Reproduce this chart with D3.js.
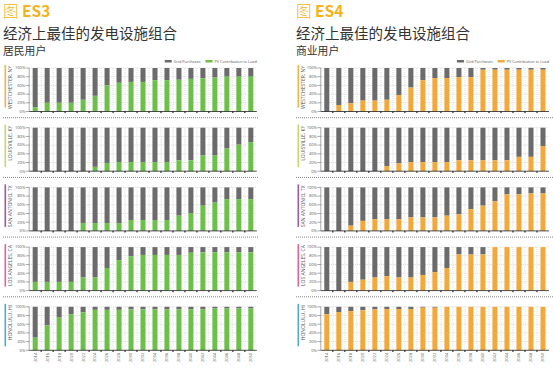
<!DOCTYPE html>
<html><head><meta charset="utf-8">
<script src="https://cdn.jsdelivr.net/npm/d3@7"></script>
<style>body{margin:0;background:#fff}svg{display:block}</style>
</head><body>
<script>
const years = ["2014","2016","2018","2020","2022","2024","2026","2028","2030","2032","2034","2036","2038","2040","2042","2044","2046","2048","2050"];
const cities = ["WESTCHESTER, NY","LOUISVILLE, KY","SAN ANTONIO, TX","LOS ANGELES, CA","HONOLULU, HI"];
const cityColors = ["#f0b548","#c3d96b","#9c5aa8","#e2629c","#4fa9d9"];
const yTicks = [0,20,40,60,80,100];
const seriesNames = ["Grid Purchases","PV Contribution to Load"];

// Residential PV contribution (%)
const resWestchester = [10,20,20,20,27,36,60,66,68,68,72,72,73,75,76,78,80,80,80];
const resLouisville  = [0,0,0,0,0,10,19,21,21,21,21,21,25,25,36,36,52,61,67];
const resSanAntonio  = [0,0,0,0,18,18,18,18,25,25,25,25,35,41,58,65,73,73,73];
const resLosAngeles  = [20,20,20,20,30,30,52,70,79,82,82,82,82,87,88,88,88,88,88];
const resHonolulu    = [29,57,75,83,87,93,93,93,94,94,94,94,94,94,94,96,96,96,96];
// Commercial PV contribution (%)
const comWestchester = [0,15,19,25,25,27,38,55,72,77,77,79,79,96,96,96,96,96,96];
const comLouisville  = [0,0,0,0,0,12,18,21,21,21,21,25,25,25,25,25,33,33,58];
const comSanAntonio  = [0,0,12,23,27,27,27,31,31,31,35,38,50,58,68,84,84,86,86];
const comLosAngeles  = [0,0,20,25,30,33,30,30,36,42,52,83,83,83,100,100,100,100,100];
const comHonolulu    = [83,88,90,92,94,95,95,95,98,98,100,100,100,100,100,100,100,100,100];

const panels = [
  {fig:"ES3", title:"经济上最佳的发电设施组合", sub:"居民用户", color:"#6cc04a",
   data:[resWestchester,resLouisville,resSanAntonio,resLosAngeles,resHonolulu],
   x0:3, plotL:29.2, plotR:256.8, sepR:259},
  {fig:"ES4", title:"经济上最佳的发电设施组合", sub:"商业用户", color:"#f2a93b",
   data:[comWestchester,comLouisville,comSanAntonio,comLosAngeles,comHonolulu],
   x0:296, plotL:320.8, plotR:549, sepR:553}
];
const gridColor = "#6b6b6b";

const svg = d3.select("body").append("svg").attr("width",553).attr("height",369)
  .style("font-family","'Open Sans','Noto Sans CJK SC',sans-serif");

panels.forEach(p => {
  const g = svg.append("g");
  const t = g.append("text").attr("x",p.x0).attr("y",17).attr("fill","#f5b21a")
    .attr("font-family","'Noto Sans CJK SC'").attr("font-size",15.5);
  t.append("tspan").attr("font-weight",300).text("图 ");
  t.append("tspan").attr("font-weight",700).text(p.fig);
  g.append("text").attr("x",p.x0).attr("y",38.5).attr("font-size",14.5).attr("fill","#333")
    .attr("font-family","'Noto Sans CJK SC'").text(p.title);
  g.append("text").attr("x",p.x0).attr("y",55).attr("font-size",10.8).attr("fill","#333")
    .attr("font-family","'Noto Sans CJK SC'").text(p.sub);

  const x = d3.scaleBand().domain(years).range([p.plotL,p.plotR]).paddingInner(0.58).paddingOuter(0.29);

  // legend
  const lg = g.append("g");
  const items = [{n:seriesNames[0],c:gridColor},{n:seriesNames[1],c:p.color}];
  let lx = 0;
  items.forEach(it => {
    lg.append("rect").attr("x",lx).attr("y",-2).attr("width",7).attr("height",2.5).attr("fill",it.c);
    const tx = lg.append("text").attr("x",lx+9).attr("y",1).attr("font-size",3.8).attr("fill","#555").text(it.n);
    lx += 9 + tx.node().getComputedTextLength() + 5;
  });
  lg.attr("transform",`translate(${p.plotR-(lx-5)},62)`);

  p.data.forEach((vals,i) => {
    const top = 68 + i*59.7, h = 43.5;
    const y = d3.scaleLinear().domain([0,100]).range([top+h, top]);
    const cg = g.append("g");
    // separator
    if (i>0) cg.append("line").attr("x1",p.x0).attr("x2",p.sepR).attr("y1",top-10).attr("y2",top-10)
      .attr("stroke","#777").attr("stroke-width",0.9).attr("stroke-dasharray","1,1");
    // city label
    cg.append("rect").attr("x",p.x0+1.5).attr("y",top-3).attr("width",1.6).attr("height",h-1).attr("fill",cityColors[i]);
    cg.append("text").attr("transform",`translate(${p.x0+9},${top-2})rotate(-90)`).attr("text-anchor","end")
      .attr("font-size",5).attr("fill","#555").text(cities[i]);
    // horizontal grid
    cg.selectAll(".hg").data(yTicks.slice(1)).join("line")
      .attr("x1",p.plotL).attr("x2",p.plotR).attr("y1",d=>y(d)).attr("y2",d=>y(d))
      .attr("stroke","#bbb").attr("stroke-width",0.5).attr("stroke-dasharray","1,1");
    // vertical grid
    cg.selectAll(".vg").data(years.slice(1)).join("line")
      .attr("x1",d=>x(d)-x.step()*0.29).attr("x2",d=>x(d)-x.step()*0.29)
      .attr("y1",y(100)).attr("y2",y(0))
      .attr("stroke","#bbb").attr("stroke-width",0.5).attr("stroke-dasharray","1,1");
    // y axis labels
    cg.selectAll(".yl").data(yTicks).join("text")
      .attr("x",p.plotL-4).attr("y",d=>y(d)+1.3).attr("text-anchor","end")
      .attr("font-size",4).attr("fill","#555").text(d=>d+"%");
    cg.selectAll(".yt").data(yTicks).join("line")
      .attr("x1",p.plotL-3.5).attr("x2",p.plotL).attr("y1",d=>y(d)).attr("y2",d=>y(d))
      .attr("stroke","#555").attr("stroke-width",0.5);
    // bars
    cg.selectAll(".gb").data(vals).join("rect")
      .attr("x",(d,j)=>x(years[j])).attr("width",x.bandwidth())
      .attr("y",y(100)).attr("height",d=>y(d)-y(100)).attr("fill",gridColor);
    cg.selectAll(".pb").data(vals).join("rect")
      .attr("x",(d,j)=>x(years[j])).attr("width",x.bandwidth())
      .attr("y",d=>y(d)).attr("height",d=>y(0)-y(d)).attr("fill",p.color);
    // axis
    cg.append("line").attr("x1",p.plotL).attr("x2",p.plotR).attr("y1",y(0)).attr("y2",y(0))
      .attr("stroke","#222").attr("stroke-width",0.8);
    cg.append("line").attr("x1",p.plotL).attr("x2",p.plotL).attr("y1",y(100)).attr("y2",y(0))
      .attr("stroke","#555").attr("stroke-width",0.5);
    cg.selectAll(".xt").data(years.slice(1)).join("rect")
      .attr("x",d=>x(d)-x.step()*0.29-0.6).attr("y",y(0)).attr("width",1.2).attr("height",1.6).attr("fill","#222");
    if (i===4) {
      cg.selectAll(".xl").data(years).join("text")
        .attr("transform",d=>`translate(${x(d)+x.bandwidth()/2+1.4},${y(0)+2.5})rotate(-90)`)
        .attr("text-anchor","end").attr("font-size",4).attr("fill","#555").text(d=>d);
    }
  });
});
</script>
</body></html>
